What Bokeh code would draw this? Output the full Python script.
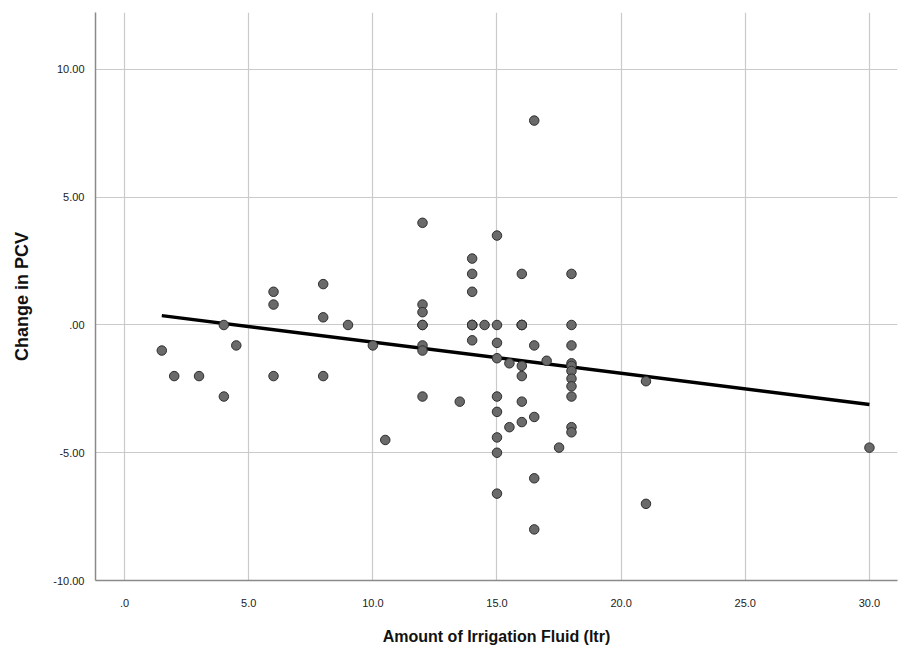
from bokeh.plotting import figure
from bokeh.models import FixedTicker, Range1d, ColumnDataSource
from bokeh.embed import file_html
from bokeh.resources import INLINE

# Data
irrigation_ltr = [
    1.5, 2, 3, 4, 4, 4.5, 6, 6, 6, 8, 8, 8, 9, 10, 10.5,
    12, 12, 12, 12, 12, 12, 12, 12,
    13.5,
    14, 14, 14, 14, 14, 14, 14,
    14.5,
    15, 15, 15, 15, 15, 15, 15, 15, 15,
    15.5, 15.5,
    16, 16, 16, 16, 16, 16, 16, 16,
    16.5, 16.5, 16.5, 16.5, 16.5,
    17, 17.5,
    18, 18, 18, 18, 18, 18, 18, 18, 18, 18, 18,
    21, 21, 30,
]
change_pcv = [
    -1.0, -2.0, -2.0, 0.0, -2.8, -0.8, 1.3, 0.8, -2.0, 1.6, 0.3, -2.0, 0.0, -0.8, -4.5,
    4.0, 0.8, 0.5, 0.0, 0.0, -0.8, -1.0, -2.8,
    -3.0,
    2.6, 2.0, 1.3, 0.0, 0.0, 0.0, -0.6,
    0.0,
    3.5, 0.0, -0.7, -1.3, -2.8, -3.4, -4.4, -5.0, -6.6,
    -1.5, -4.0,
    2.0, 0.0, 0.0, 0.0, -1.6, -2.0, -3.0, -3.8,
    8.0, -0.8, -3.6, -6.0, -8.0,
    -1.4, -4.8,
    2.0, 0.0, -0.8, -1.5, -1.6, -1.8, -2.1, -2.4, -2.8, -4.0, -4.2,
    -2.2, -7.0, -4.8,
]

# Fitted linear regression line
fit_intercept = 0.55
fit_slope = -0.122
fit_x = [1.5, 30.0]
fit_y = [fit_intercept + fit_slope * xv for xv in fit_x]

x_ticks = [0, 5, 10, 15, 20, 25, 30]
x_tick_labels = [".0", "5.0", "10.0", "15.0", "20.0", "25.0", "30.0"]
y_ticks = [-10, -5, 0, 5, 10]
y_tick_labels = ["-10.00", "-5.00", ".00", "5.00", "10.00"]

p = figure(
    width=901, height=651,
    output_backend="svg", toolbar_location=None,
    x_range=Range1d(-1.17, 31.13), y_range=Range1d(-10, 12.23),
    min_border_left=95, min_border_right=4, min_border_top=12, min_border_bottom=71,
)
p.outline_line_color = None
p.background_fill_color = "white"
p.border_fill_color = "white"

src = ColumnDataSource(dict(x=irrigation_ltr, y=change_pcv))
p.line(fit_x, fit_y, line_color="black", line_width=3.5)
p.scatter("x", "y", source=src, size=9.5, fill_color="#6a6a6a",
          line_color="#2e2e2e", line_width=1)

p.xaxis.ticker = FixedTicker(ticks=x_ticks)
p.yaxis.ticker = FixedTicker(ticks=y_ticks)
p.xaxis.major_label_overrides = {t: l for t, l in zip(x_ticks, x_tick_labels)}
p.yaxis.major_label_overrides = {t: l for t, l in zip(y_ticks, y_tick_labels)}

for ax in (p.xaxis, p.yaxis):
    ax.axis_line_color = "#8a8a8a"
    ax.axis_line_width = 1.5
    ax.major_tick_line_color = None
    ax.minor_tick_line_color = None
    ax.major_label_text_font = "Liberation Sans"
    ax.major_label_text_font_size = "11px"
    ax.major_label_text_color = "#222222"

p.xaxis.major_label_standoff = 12
p.yaxis.major_label_standoff = 5

p.xaxis.axis_label = "Amount of Irrigation Fluid (ltr)"
p.xaxis.axis_label_text_font = "Liberation Sans"
p.xaxis.axis_label_text_font_size = "16px"
p.xaxis.axis_label_text_font_style = "bold"
p.xaxis.axis_label_text_color = "#111111"
p.xaxis.axis_label_standoff = 18

p.yaxis.axis_label = "Change in PCV"
p.yaxis.axis_label_text_font = "Liberation Sans"
p.yaxis.axis_label_text_font_size = "18px"
p.yaxis.axis_label_text_font_style = "bold"
p.yaxis.axis_label_text_color = "#111111"
p.yaxis.axis_label_standoff = 18

p.xgrid.ticker = FixedTicker(ticks=x_ticks)
p.ygrid.ticker = FixedTicker(ticks=y_ticks)
p.grid.grid_line_color = "#cacaca"
p.grid.grid_line_width = 1.2

open("out.html", "w").write(file_html(p, INLINE))
